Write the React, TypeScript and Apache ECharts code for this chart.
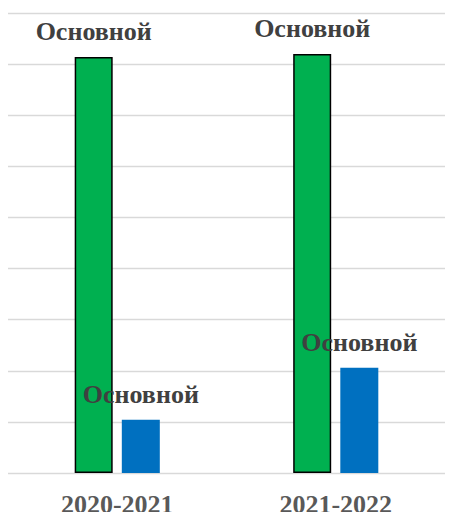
import React, { useEffect, useRef } from "react";
import * as echarts from "echarts";

const categories = ["2020-2021", "2021-2022"];
const greenValues = [8.14, 8.2];
const blueValues = [1.04, 2.06];
const labelText = "Основной";

export default function App() {
  const ref = useRef<HTMLDivElement>(null);
  useEffect(() => {
    const chart = echarts.init(ref.current!, null, { renderer: "svg" });
    const label = {
      show: true,
      position: "top",
      distance: 12,
      formatter: () => labelText,
      fontFamily: "Liberation Serif",
      fontWeight: "bold",
      fontSize: 26,
      color: "#404040",
    };
    chart.setOption({
      animation: false,
      backgroundColor: "#ffffff",
      grid: {
        left: 8,
        right: 13,
        top: 13,
        bottom: 39,
        containLabel: false,
        outerBoundsMode: "none",
      },
      xAxis: {
        type: "category",
        data: categories,
        axisLine: { show: false },
        axisTick: { show: false },
        axisLabel: {
          margin: 18,
          fontFamily: "Liberation Serif",
          fontWeight: "bold",
          fontSize: 26,
          color: "#595959",
        },
      },
      yAxis: {
        type: "value",
        min: 0,
        max: 9,
        interval: 1,
        axisLabel: { show: false },
        axisLine: { show: false },
        axisTick: { show: false },
        splitLine: { lineStyle: { color: "#d9d9d9", width: 1.3 } },
      },
      series: [
        {
          type: "bar",
          data: greenValues,
          barWidth: 38,
          barGap: "24%",
          itemStyle: { color: "#00B050", borderColor: "#000000", borderWidth: 1.5 },
          label,
        },
        {
          type: "bar",
          data: blueValues,
          barWidth: 38,
          itemStyle: { color: "#0070C0" },
          label,
        },
      ],
    });
    return () => chart.dispose();
  }, []);
  return (
    <div
      ref={ref}
      style={{ position: "fixed", left: 0, top: 0, width: 458, height: 512 }}
    />
  );
}
